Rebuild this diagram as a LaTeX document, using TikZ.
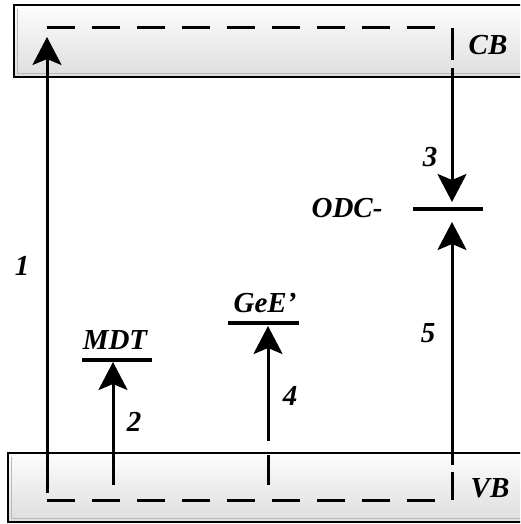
\documentclass[tikz,border=0pt]{standalone}
\usepackage{fontspec}
\setmainfont{Liberation Serif}
\usetikzlibrary{arrows.meta}
\begin{document}
\begin{tikzpicture}[x=1pt,y=-1pt,
  lbl/.style={font=\fontsize{29}{31}\selectfont\bfseries\itshape, inner sep=0pt},
  band/.style={draw=black, line width=2.2pt, top color=gray!2, bottom color=gray!26},
  shade/.style={draw=gray!55, line width=1.2pt},
  ln/.style={line width=3pt},
  dsh/.style={line width=3pt, dash pattern=on 28pt off 17pt},
  arr/.style={line width=3pt, -{Stealth[length=28pt,width=29pt,inset=6pt]}},
  lvl/.style={line width=3.5pt}]
\useasboundingbox (0,0) rectangle (520,524);
\clip (0,0) rectangle (520,524);
% bands
\draw[band] (14,5) rectangle (545,77);
\draw[shade] (17.5,9) -- (17.5,73.5) -- (545,73.5);
\draw[band] (8,453) rectangle (545,522);
\draw[shade] (11.5,457) -- (11.5,518.5) -- (545,518.5);
\node[lbl] (cb) at (488,45) {CB};
\node[lbl] (vb) at (490,488) {VB};
% dashed edges
\coordinate (tl) at (47,28); \coordinate (tr) at (437,28);
\coordinate (bl) at (47,500); \coordinate (br) at (437,500);
\draw[dsh] (tl) -- (tr);
\draw[dsh] (bl) -- (br);
% levels
\coordinate (mdtL) at (82,360); \coordinate (mdtR) at (152,360);
\coordinate (geL) at (228,323); \coordinate (geR) at (299,323);
\coordinate (odL) at (413,209); \coordinate (odR) at (483,209);
\draw[lvl] (mdtL) -- (mdtR);
\draw[lvl] (geL) -- (geR);
\draw[lvl] (odL) -- (odR);
\node[lbl] (mdt) at (115,340) {MDT};
\node[lbl] (gee) at (265,303) {GeE’};
\node[lbl] (odc) at (347,208) {ODC-};
% arrow 1
\coordinate (a1s) at (47,493); \coordinate (a1e) at (47,37);
\draw[arr] (a1s) -- (a1e);
\node[lbl] (n1) at (22,266) {1};
% arrow 2
\coordinate (a2s) at (113,485); \coordinate (a2e) at (113,362);
\draw[arr] (a2s) -- (a2e);
\node[lbl] (n2) at (134,422) {2};
% arrow 4
\coordinate (a4d1) at (268,455); \coordinate (a4d2) at (268,485);
\coordinate (a4s) at (268,441); \coordinate (a4e) at (268,326);
\draw[ln] (a4d1) -- (a4d2);
\draw[arr] (a4s) -- (a4e);
\node[lbl] (n4) at (290,396) {4};
% arrow 3
\coordinate (a3d1) at (452,28); \coordinate (a3d2) at (452,60);
\coordinate (a3s) at (452,68); \coordinate (a3e) at (452,202);
\draw[ln] (a3d1) -- (a3d2);
\draw[arr] (a3s) -- (a3e);
\node[lbl] (n3) at (430,157) {3};
% arrow 5
\coordinate (a5d1) at (452,472); \coordinate (a5d2) at (452,500);
\coordinate (a5s) at (452,465); \coordinate (a5e) at (452,222);
\draw[ln] (a5d1) -- (a5d2);
\draw[arr] (a5s) -- (a5e);
\node[lbl] (n5) at (428,333) {5};
\end{tikzpicture}
\end{document}
